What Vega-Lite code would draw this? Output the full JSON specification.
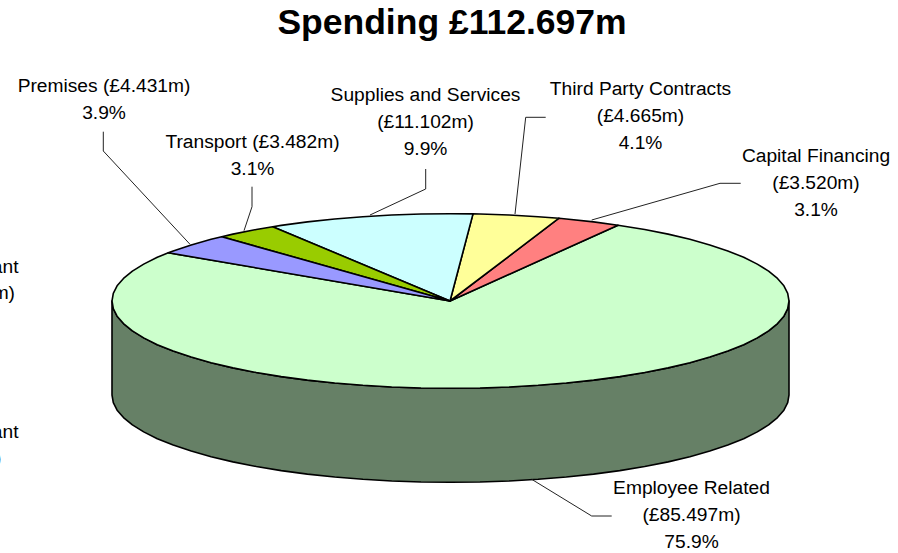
{"$schema":"https://vega.github.io/schema/vega-lite/v6.json","width":898,"height":553,"autosize":"none","padding":0,"background":"white","config":{"view":{"stroke":null},"font":"Liberation Sans"},"title":{"text":"Spending £112.697m","font":"Liberation Sans","fontSize":35.5,"fontWeight":"bold","color":"#000000","anchor":"middle","dx":3,"offset":-41},"projection":{"type":"identity","scale":1,"translate":[0,0]},"layer":[{"data":{"values":[{"type":"Feature","properties":{"part":"Side"},"geometry":{"type":"Polygon","coordinates":[[[112,301],[113.3,308.6],[117.1,316.2],[123.5,323.6],[132.4,330.9],[143.7,337.9],[157.3,344.7],[173.2,351.1],[191.2,357.1],[211.1,362.7],[232.9,367.9],[256.3,372.5],[281.2,376.6],[307.4,380.1],[334.7,383],[362.9,385.3],[391.7,387],[421,388],[450.5,388.3],[480,388],[509.3,387],[538.1,385.3],[566.3,383],[593.6,380.1],[619.8,376.6],[644.7,372.5],[668.1,367.9],[689.9,362.7],[709.8,357.1],[727.8,351.1],[743.7,344.7],[757.3,337.9],[768.6,330.9],[777.5,323.6],[783.9,316.2],[787.7,308.6],[789,301],[789,395],[787.7,402.6],[783.9,410.2],[777.5,417.6],[768.6,424.9],[757.3,431.9],[743.7,438.7],[727.8,445.1],[709.8,451.1],[689.9,456.7],[668.1,461.9],[644.7,466.5],[619.8,470.6],[593.6,474.1],[566.3,477],[538.1,479.3],[509.3,481],[480,482],[450.5,482.3],[421,482],[391.7,481],[362.9,479.3],[334.7,477],[307.4,474.1],[281.2,470.6],[256.3,466.5],[232.9,461.9],[211.1,456.7],[191.2,451.1],[173.2,445.1],[157.3,438.7],[143.7,431.9],[132.4,424.9],[123.5,417.6],[117.1,410.2],[113.3,402.6],[112,395],[112,301]]]}},{"type":"Feature","properties":{"part":"Employee Related"},"geometry":{"type":"Polygon","coordinates":[[[450,301],[168.3,252.8],[157.3,257.3],[143.7,264.1],[132.4,271.1],[123.5,278.4],[117.1,285.8],[113.3,293.4],[112,301],[113.3,308.6],[117.1,316.2],[123.5,323.6],[132.4,330.9],[143.7,337.9],[157.3,344.7],[173.2,351.1],[191.2,357.1],[211.1,362.7],[232.9,367.9],[256.3,372.5],[281.2,376.6],[307.4,380.1],[334.7,383],[362.9,385.3],[391.7,387],[421,388],[450.5,388.3],[480,388],[509.3,387],[538.1,385.3],[566.3,383],[593.6,380.1],[619.8,376.6],[644.7,372.5],[668.1,367.9],[689.9,362.7],[709.8,357.1],[727.8,351.1],[743.7,344.7],[757.3,337.9],[768.6,330.9],[777.5,323.6],[783.9,316.2],[787.7,308.6],[789,301],[787.7,293.4],[783.9,285.8],[777.5,278.4],[768.6,271.1],[757.3,264.1],[743.7,257.3],[727.8,250.9],[709.8,244.9],[689.9,239.3],[668.1,234.1],[644.7,229.5],[618,225.2],[450,301]]]}},{"type":"Feature","properties":{"part":"Capital Financing"},"geometry":{"type":"Polygon","coordinates":[[[450,301],[618,225.2],[593.6,221.9],[566.3,219],[559,218.2],[450,301]]]}},{"type":"Feature","properties":{"part":"Third Party Contracts"},"geometry":{"type":"Polygon","coordinates":[[[450,301],[559,218.2],[538.1,216.7],[509.3,215],[480,214],[473,213.9],[450,301]]]}},{"type":"Feature","properties":{"part":"Supplies and Services"},"geometry":{"type":"Polygon","coordinates":[[[450,301],[473,213.9],[450.5,213.7],[421,214],[391.7,215],[362.9,216.7],[334.7,219],[307.4,221.9],[281.2,225.4],[272.7,226.7],[450,301]]]}},{"type":"Feature","properties":{"part":"Transport"},"geometry":{"type":"Polygon","coordinates":[[[450,301],[272.7,226.7],[256.3,229.5],[232.9,234.1],[221.7,236.7],[450,301]]]}},{"type":"Feature","properties":{"part":"Premises"},"geometry":{"type":"Polygon","coordinates":[[[450,301],[221.7,236.7],[211.1,239.3],[191.2,244.9],[173.2,250.9],[168.3,252.8],[450,301]]]}}]},"mark":{"type":"geoshape","stroke":"#000000","strokeWidth":1.6,"strokeJoin":"round"},"encoding":{"fill":{"field":"properties.part","type":"nominal","legend":null,"scale":{"domain":["Side","Employee Related","Capital Financing","Third Party Contracts","Supplies and Services","Transport","Premises"],"range":["#668066","#CCFFCC","#FF8080","#FFFF99","#CCFFFF","#99CC00","#9999FF"]}}}},{"data":{"values":[{"type":"Feature","properties":{"leader":"Premises"},"geometry":{"type":"LineString","coordinates":[[103.3,131.7],[103.3,151],[190,244.3]]}},{"type":"Feature","properties":{"leader":"Transport"},"geometry":{"type":"LineString","coordinates":[[252,186.7],[252,206.7],[244,230.7]]}},{"type":"Feature","properties":{"leader":"Supplies and Services"},"geometry":{"type":"LineString","coordinates":[[425.7,169],[425.7,189],[370,215]]}},{"type":"Feature","properties":{"leader":"Third Party Contracts"},"geometry":{"type":"LineString","coordinates":[[545.7,117.3],[525.7,117.3],[515,214]]}},{"type":"Feature","properties":{"leader":"Capital Financing"},"geometry":{"type":"LineString","coordinates":[[740.7,183.3],[720,183.3],[591.7,220]]}},{"type":"Feature","properties":{"leader":"Employee Related"},"geometry":{"type":"LineString","coordinates":[[611.7,516],[591.7,516],[531.7,479.3]]}}]},"mark":{"type":"geoshape","filled":false,"stroke":"#222222","strokeWidth":1},"encoding":{}},{"data":{"values":[{"label":"Premises (£4.431m)\n3.9%","lon":104,"lat":86},{"label":"Transport (£3.482m)\n3.1%","lon":252.5,"lat":142},{"label":"Supplies and Services\n(£11.102m)\n9.9%","lon":425.5,"lat":95},{"label":"Third Party Contracts\n(£4.665m)\n4.1%","lon":640.5,"lat":89},{"label":"Capital Financing\n(£3.520m)\n3.1%","lon":816,"lat":156},{"label":"Employee Related\n(£85.497m)\n75.9%","lon":691.5,"lat":487.5}]},"mark":{"type":"text","font":"Liberation Sans","fontSize":19.2,"color":"#000000","align":"center","baseline":"middle","lineBreak":"\n","lineHeight":27},"encoding":{"longitude":{"field":"lon","type":"quantitative"},"latitude":{"field":"lat","type":"quantitative"},"text":{"field":"label"}}},{"data":{"values":[{"label":"ant","lon":18.5,"lat":267},{"label":"m)","lon":15,"lat":293},{"label":"ant","lon":18.5,"lat":432},{"label":")","lon":1.5,"lat":458}]},"mark":{"type":"text","font":"Liberation Sans","fontSize":19.2,"color":"#000000","align":"right","baseline":"middle"},"encoding":{"longitude":{"field":"lon","type":"quantitative"},"latitude":{"field":"lat","type":"quantitative"},"text":{"field":"label"}}}]}
